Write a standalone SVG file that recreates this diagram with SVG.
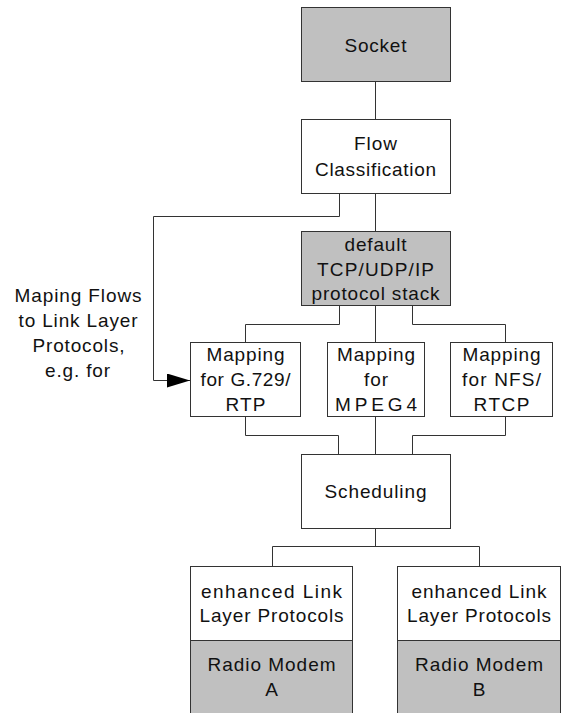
<svg xmlns="http://www.w3.org/2000/svg" width="562" height="713" viewBox="0 0 562 713">
<defs>
<style>
.box{fill:#ffffff;stroke:#333333;stroke-width:1}
.gray{fill:#c0c0c0;stroke:#333333;stroke-width:1}
.line{fill:none;stroke:#333333;stroke-width:1}
text{font-family:"Liberation Sans",Arial,Helvetica,sans-serif;font-size:19px;fill:#111111;text-anchor:middle}
</style>
<marker id="arrow" markerUnits="userSpaceOnUse" markerWidth="23" markerHeight="14" viewBox="0 0 23 14" refX="23" refY="7" orient="auto">
<path d="M0,0 L23,7 L0,14 Z" fill="#000000"/>
</marker>
</defs>
<rect width="562" height="713" fill="#ffffff"/>

<g id="connectors">
<path class="line" d="M375.5,81.5 V119.5"/>
<path class="line" d="M375.5,193.5 V231.5"/>
<path class="line" d="M339.5,193.5 V216.5 H153.5 V380.5 H190" marker-end="url(#arrow)"/>
<path class="line" d="M339.5,305.5 V324.5 H245.5 V342.5"/>
<path class="line" d="M375.5,305.5 V342.5"/>
<path class="line" d="M412.5,305.5 V324.5 H505.5 V342.5"/>
<path class="line" d="M245.5,416.5 V435.5 H338.5 V454.5"/>
<path class="line" d="M375.5,416.5 V454.5"/>
<path class="line" d="M505.5,416.5 V435.5 H412.5 V454.5"/>
<path class="line" d="M375.5,528.5 V546.5"/>
<path class="line" d="M272.5,566.5 V546.5 H479.5 V566.5"/>
</g>

<g id="socket">
<rect class="gray" x="301.5" y="7.5" width="149" height="74"/>
<text x="375.5" y="51.5" textLength="62" lengthAdjust="spacing">Socket</text>
</g>

<g id="flow-classification">
<rect class="box" x="301.5" y="119.5" width="149" height="74"/>
<text x="375.5" y="150" textLength="43" lengthAdjust="spacing">Flow</text>
<text x="375.5" y="175.5" textLength="121" lengthAdjust="spacing">Classification</text>
</g>

<g id="mapping-label">
<text x="78" y="301.5" textLength="127" lengthAdjust="spacing">Maping Flows</text>
<text x="78" y="327" textLength="119" lengthAdjust="spacing">to Link Layer</text>
<text x="78.5" y="352" textLength="92" lengthAdjust="spacing">Protocols,</text>
<text x="77.5" y="377" textLength="65" lengthAdjust="spacing">e.g. for</text>
</g>

<g id="default-stack">
<rect class="gray" x="301.5" y="231.5" width="149" height="74"/>
<text x="375.5" y="250.5" textLength="62" lengthAdjust="spacing">default</text>
<text x="375.5" y="275.5" textLength="117" lengthAdjust="spacing">TCP/UDP/IP</text>
<text x="375.5" y="300" textLength="128" lengthAdjust="spacing">protocol stack</text>
</g>

<g id="mapping-g729">
<rect class="box" x="190.5" y="342.5" width="110" height="74"/>
<text x="245.5" y="361" textLength="78" lengthAdjust="spacing">Mapping</text>
<text x="245.5" y="385.5" textLength="90" lengthAdjust="spacing">for G.729/</text>
<text x="245.5" y="410.5" textLength="40" lengthAdjust="spacing">RTP</text>
</g>

<g id="mapping-mpeg4">
<rect class="box" x="327.5" y="342.5" width="97" height="74"/>
<text x="376" y="361" textLength="78" lengthAdjust="spacing">Mapping</text>
<text x="376" y="385.5" textLength="24" lengthAdjust="spacing">for</text>
<text x="376" y="410.5" textLength="82" lengthAdjust="spacing">MPEG4</text>
</g>

<g id="mapping-nfs">
<rect class="box" x="450.5" y="342.5" width="102" height="74"/>
<text x="501.5" y="361" textLength="78" lengthAdjust="spacing">Mapping</text>
<text x="501.5" y="385.5" textLength="79" lengthAdjust="spacing">for NFS/</text>
<text x="501.5" y="410.5" textLength="56" lengthAdjust="spacing">RTCP</text>
</g>

<g id="scheduling">
<rect class="box" x="301.5" y="454.5" width="149" height="74"/>
<text x="375.5" y="497.5" textLength="102" lengthAdjust="spacing">Scheduling</text>
</g>

<g id="link-a">
<rect class="box" x="190.5" y="566.5" width="162" height="74"/>
<rect class="gray" x="190.5" y="640.5" width="162" height="80"/>
<text x="271.5" y="597.5" textLength="141" lengthAdjust="spacing">enhanced  Link</text>
<text x="271.5" y="621.5" textLength="144" lengthAdjust="spacing">Layer Protocols</text>
<text x="271.5" y="670.5" textLength="128" lengthAdjust="spacing">Radio Modem</text>
<text x="271.5" y="695.5">A</text>
</g>

<g id="link-b">
<rect class="box" x="397.5" y="566.5" width="163" height="74"/>
<rect class="gray" x="397.5" y="640.5" width="163" height="80"/>
<text x="479" y="597.5" textLength="135" lengthAdjust="spacing">enhanced Link</text>
<text x="479" y="621.5" textLength="144" lengthAdjust="spacing">Layer Protocols</text>
<text x="479" y="670.5" textLength="128" lengthAdjust="spacing">Radio Modem</text>
<text x="479" y="695.5">B</text>
</g>
</svg>
